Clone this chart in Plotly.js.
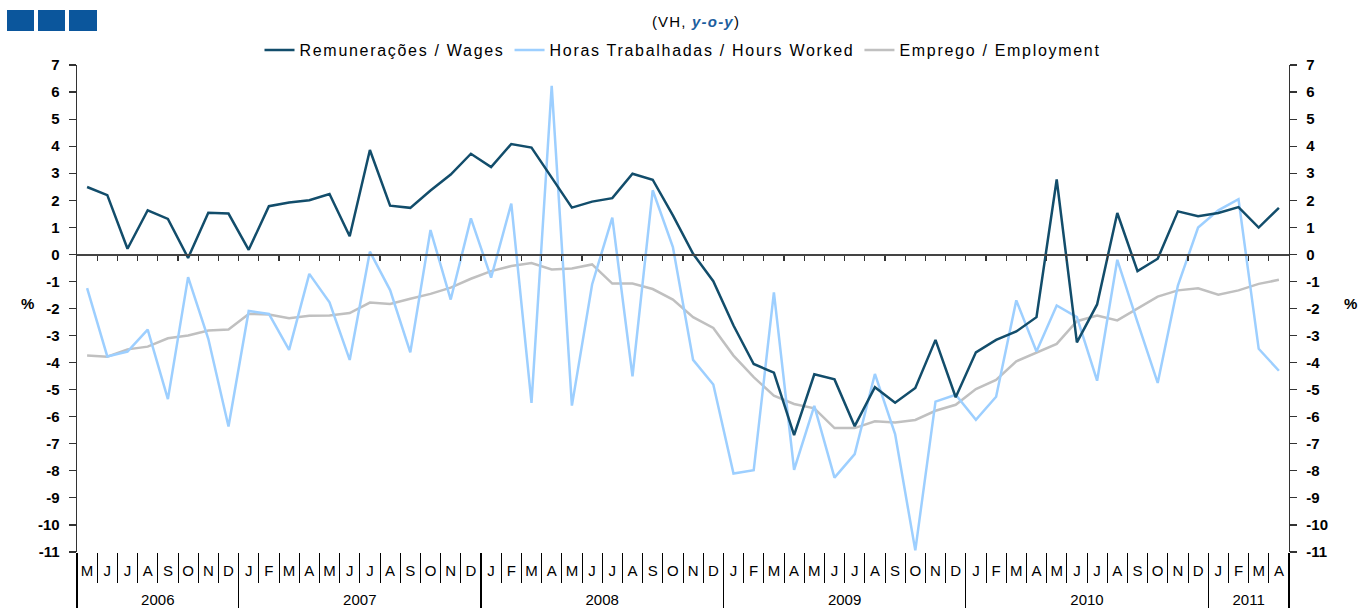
<!DOCTYPE html>
<html><head><meta charset="utf-8">
<script src="https://cdn.plot.ly/plotly-3.0.1.min.js"></script>
<style>html,body{margin:0;padding:0;background:#fff}#chart{width:1361px;height:608px}</style>
</head><body><div id="chart"></div>
<script>
// Period: monthly, May 2006 .. April 2011
const startYear = 2006;
const startMonth = 5;
const monthInitials = ['J','F','M','A','M','J','J','A','S','O','N','D'];

const seriesNames = ['Remunerações / Wages', 'Horas Trabalhadas / Hours Worked', 'Emprego / Employment'];

const wages = [
  2.49, 2.19, 0.21, 1.63, 1.31, -0.13, 1.54, 1.51,
  0.17, 1.78, 1.92, 2.00, 2.23, 0.67, 3.86, 1.80, 1.72, 2.36, 2.95, 3.72,
  3.23, 4.08, 3.95, 2.83, 1.73, 1.95, 2.08, 2.98, 2.76, 1.44, 0.02, -0.99,
  -2.63, -4.05, -4.37, -6.68, -4.43, -4.62, -6.35, -4.91, -5.48, -4.94, -3.16, -5.28,
  -3.62, -3.16, -2.85, -2.32, 2.77, -3.25, -1.85, 1.53, -0.62, -0.16, 1.59, 1.41,
  1.53, 1.75, 0.99, 1.72
];
const hours = [
  -1.25, -3.77, -3.59, -2.78, -5.35, -0.84, -3.12, -6.36,
  -2.09, -2.20, -3.53, -0.72, -1.77, -3.90, 0.10, -1.32, -3.62, 0.90, -1.67, 1.33,
  -0.86, 1.88, -5.49, 6.23, -5.59, -1.11, 1.36, -4.51, 2.37, 0.27, -3.90, -4.81,
  -8.10, -7.98, -1.40, -7.96, -5.60, -8.25, -7.38, -4.42, -6.64, -10.94, -5.44, -5.19,
  -6.11, -5.26, -1.70, -3.59, -1.89, -2.32, -4.67, -0.20, -2.50, -4.75, -1.15, 0.99,
  1.63, 2.04, -3.49, -4.30
];
const employment = [
  -3.74, -3.78, -3.51, -3.41, -3.10, -3.00, -2.81, -2.78,
  -2.20, -2.22, -2.36, -2.27, -2.26, -2.17, -1.78, -1.83, -1.64, -1.46, -1.23, -0.90,
  -0.62, -0.43, -0.32, -0.56, -0.52, -0.37, -1.08, -1.08, -1.28, -1.67, -2.32, -2.72,
  -3.74, -4.54, -5.22, -5.53, -5.69, -6.42, -6.42, -6.17, -6.21, -6.12, -5.78, -5.56,
  -4.98, -4.64, -3.95, -3.62, -3.31, -2.47, -2.26, -2.44, -2.00, -1.56, -1.33, -1.25,
  -1.49, -1.33, -1.09, -0.94
];
const yRange = [-11, 7];

// ---- derived axis helpers ----
const n = wages.length;
const idx = [], monthLabels = [], yearOf = [];
for (let i = 0; i < n; i++) {
  const k = startMonth - 1 + i;
  idx.push(i);
  monthLabels.push(monthInitials[k % 12]);
  yearOf.push(startYear + Math.floor(k / 12));
}
const years = [...new Set(yearOf)];
const yearCenters = years.map(y => {
  const ii = idx.filter(i => yearOf[i] === y);
  return (ii[0] + ii[ii.length - 1]) / 2;
});
const yearBounds = [-0.5];
for (let i = 1; i < n; i++) if (yearOf[i] !== yearOf[i - 1]) yearBounds.push(i - 0.5);
yearBounds.push(n - 0.5);
const monthBounds = idx.slice(1).map(i => i - 0.5);
const xRange = [-0.5, n - 0.5];
const yTicks = [];
for (let v = yRange[0]; v <= yRange[1]; v++) yTicks.push(v);

const W = 1361, H = 608;
const M = {l: 77, r: 72, t: 65, b: 56};
const pw = W - M.l - M.r, ph = H - M.t - M.b;
const px = v => (v - M.l) / pw;
const py = v => (H - M.b - v) / ph;

const FONT = 'Arial, "Liberation Sans", sans-serif';
const sp = (s, ls) => '<span style="letter-spacing:' + ls + 'px">' + s + '</span>';

const colors = {wages: '#124d6b', hours: '#9dcfff', emp: '#c0c0c0'};

const traces = [
  {x: idx, y: employment, name: sp(seriesNames[2], 1.7), type: 'scatter', mode: 'lines',
   line: {color: colors.emp, width: 2.5}, hoverinfo: 'skip'},
  {x: idx, y: hours, name: sp(seriesNames[1], 1.7), type: 'scatter', mode: 'lines',
   line: {color: colors.hours, width: 2.5}, hoverinfo: 'skip'},
  {x: idx, y: wages, name: sp(seriesNames[0], 1.7), type: 'scatter', mode: 'lines',
   line: {color: colors.wages, width: 2.5}, hoverinfo: 'skip'}
];
// invisible carriers so that the overlay axes get drawn
[['x2','y'],['x3','y'],['x4','y'],['x5','y'],['x','y2']].forEach(([xa, ya]) => {
  traces.push({x: idx, y: employment, xaxis: xa, yaxis: ya, type: 'scatter', mode: 'lines',
    line: {width: 0, color: 'rgba(0,0,0,0)'}, opacity: 0, showlegend: false, hoverinfo: 'skip'});
});

const baseX = {range: xRange, showgrid: false, zeroline: false, fixedrange: true};
const yTickText = yTicks.map(v => '<b>' + String(v) + '</b>');
const baseY = {range: yRange, tickmode: 'array', tickvals: yTicks, ticktext: yTickText,
  ticks: 'outside', ticklen: 7, tickcolor: '#333', tickwidth: 1.2, ticklabelstandoff: 6,
  showline: true, linecolor: '#333', linewidth: 1.3, showgrid: false, zeroline: false,
  tickfont: {family: FONT, size: 15, color: '#000'}, fixedrange: true};

const layout = {
  width: W, height: H,
  margin: M,
  paper_bgcolor: '#fff', plot_bgcolor: '#fff',
  font: {family: FONT, color: '#000'},
  showlegend: true,
  legend: {orientation: 'h', x: 0.5, xanchor: 'center', y: py(50), yanchor: 'middle',
    traceorder: 'reversed', font: {family: FONT, size: 16, color: '#000'}, bgcolor: 'rgba(0,0,0,0)'},
  title: {text: sp('(VH, <b><i><span style="color:#1b5e9e">y-o-y</span></i></b>)', 1.2),
    x: 696 / W, xref: 'container', xanchor: 'center', y: 1 - 22 / H, yref: 'container', yanchor: 'middle',
    font: {family: FONT, size: 15, color: '#000'}},
  xaxis: Object.assign({}, baseX, {anchor: 'y', tickmode: 'array', tickvals: idx, ticktext: monthLabels,
    ticks: '', showline: false, ticklabelstandoff: 8, tickfont: {family: FONT, size: 15, color: '#000'}}),
  xaxis2: Object.assign({}, baseX, {overlaying: 'x', anchor: 'y', tickmode: 'array', tickvals: monthBounds,
    ticks: 'outside', ticklen: 30, tickcolor: '#000', tickwidth: 1, showticklabels: false, showline: false}),
  xaxis3: Object.assign({}, baseX, {overlaying: 'x', anchor: 'y', tickmode: 'array', tickvals: yearBounds,
    ticks: 'outside', ticklen: 56, tickcolor: '#000', tickwidth: 1.2, showticklabels: false, showline: false}),
  xaxis4: Object.assign({}, baseX, {overlaying: 'x', anchor: 'y', tickmode: 'array', tickvals: yearCenters,
    ticktext: years.map(String), ticks: '', ticklabelstandoff: 37, showline: false,
    tickfont: {family: FONT, size: 15, color: '#000'}}),
  xaxis5: Object.assign({}, baseX, {overlaying: 'x', anchor: 'free',
    position: (0 - yRange[0]) / (yRange[1] - yRange[0]), tickmode: 'array', tickvals: monthBounds,
    ticks: 'outside', ticklen: 5, tickcolor: '#333', tickwidth: 1.2, showticklabels: false,
    showline: true, linecolor: '#444', linewidth: 1.2}),
  yaxis: Object.assign({}, baseY, {anchor: 'x', side: 'left'}),
  yaxis2: Object.assign({}, baseY, {overlaying: 'y', anchor: 'x', side: 'right'}),
  shapes: [
    {type: 'rect', xref: 'paper', yref: 'paper', x0: px(7), x1: px(34), y0: py(10), y1: py(31), fillcolor: '#0b569c', line: {width: 0}},
    {type: 'rect', xref: 'paper', yref: 'paper', x0: px(38), x1: px(65), y0: py(10), y1: py(31), fillcolor: '#0b569c', line: {width: 0}},
    {type: 'rect', xref: 'paper', yref: 'paper', x0: px(69), x1: px(97), y0: py(10), y1: py(31), fillcolor: '#0b569c', line: {width: 0}}
  ],
  annotations: [
    {text: '<b>%</b>', xref: 'paper', yref: 'paper', x: px(27), y: py(303), showarrow: false, xanchor: 'center', yanchor: 'middle', font: {family: FONT, size: 15, color: '#000'}},
    {text: '<b>%</b>', xref: 'paper', yref: 'paper', x: px(1350), y: py(303), showarrow: false, xanchor: 'center', yanchor: 'middle', font: {family: FONT, size: 15, color: '#000'}}
  ]
};

Plotly.newPlot('chart', traces, layout, {displayModeBar: false, staticPlot: true});
</script></body></html>
